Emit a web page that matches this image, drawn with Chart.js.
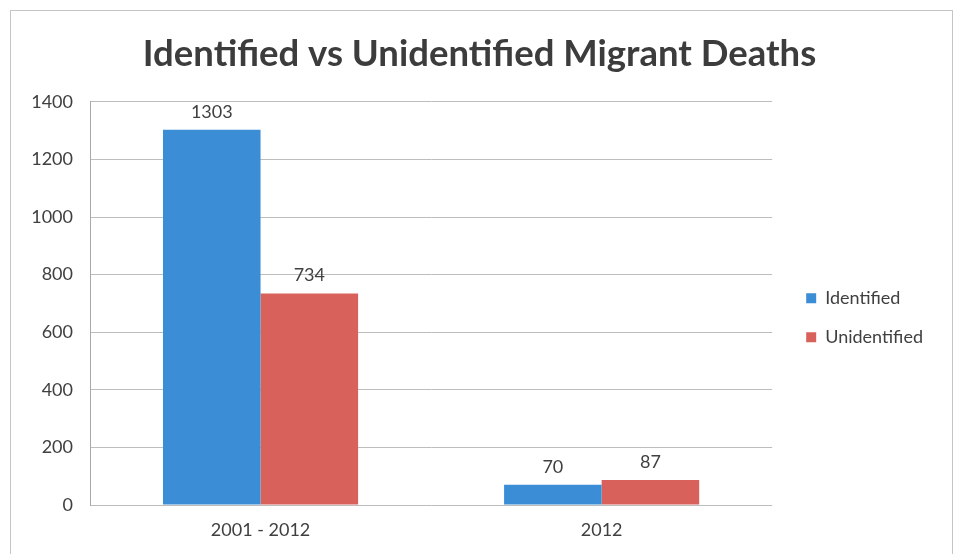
<!DOCTYPE html>
<html>
<head>
<meta charset="utf-8">
<script src="https://cdn.jsdelivr.net/npm/chart.js@4"></script>
<style>
  html, body { margin: 0; padding: 0; background: #ffffff; }
  #wrap { position: relative; width: 956px; height: 554px; }
</style>
</head>
<body>
<div id="wrap"><canvas id="c" width="956" height="554"></canvas></div>
<script>
const categories = ["2001 - 2012", "2012"];
const identified = [1303, 70];
const unidentified = [734, 87];
const yTicks = [0, 200, 400, 600, 800, 1000, 1200, 1400];
const titleText = "Identified vs Unidentified Migrant Deaths";

const FONT = "Lato, 'Open Sans', sans-serif";

const framePlugin = {
  id: 'frame',
  beforeDraw(chart) {
    const ctx = chart.ctx;
    ctx.save();
    ctx.fillStyle = '#ffffff';
    ctx.fillRect(0, 0, chart.width, chart.height);
    ctx.strokeStyle = '#c4c4c4';
    ctx.lineWidth = 1;
    ctx.strokeRect(10.5, 10.5, 942, 560);
    ctx.restore();
  }
};

const labelPlugin = {
  id: 'barLabels',
  afterDatasetsDraw(chart) {
    const ctx = chart.ctx;
    ctx.save();
    ctx.font = "18px " + FONT;
    ctx.fillStyle = '#404040';
    ctx.textAlign = 'center';
    ctx.textBaseline = 'bottom';
    chart.data.datasets.forEach((ds, i) => {
      const meta = chart.getDatasetMeta(i);
      meta.data.forEach((el, j) => {
        ctx.fillText(String(ds.data[j]), el.x, el.y - 9);
      });
    });
    ctx.restore();
  }
};

new Chart(document.getElementById('c'), {
  type: 'bar',
  data: {
    labels: categories,
    datasets: [
      { label: 'Identified', data: identified, backgroundColor: '#3b8dd5', borderWidth: 0 },
      { label: 'Unidentified', data: unidentified, backgroundColor: '#d8625b', borderWidth: 0 }
    ]
  },
  options: {
    responsive: false,
    animation: false,
    devicePixelRatio: 1,
    layout: { padding: { left: 26, right: 23, top: 10, bottom: 13 } },
    datasets: { bar: { categoryPercentage: 0.572, barPercentage: 1.0 } },
    plugins: {
      title: {
        display: true,
        text: titleText,
        color: '#3c3c3c',
        font: { family: FONT, size: 36.5, weight: 'bold', lineHeight: 1.2 },
        padding: { top: 22, bottom: 26 }
      },
      legend: {
        position: 'right',
        align: 'center',
        title: { display: true, text: ' ', font: { size: 12 }, padding: { top: 35, bottom: 35 } },
        labels: {
          boxWidth: 10,
          boxHeight: 10,
          padding: 21,
          color: '#404040',
          font: { family: FONT, size: 18 }
        }
      },
      tooltip: { enabled: false }
    },
    scales: {
      x: {
        grid: { display: false, drawTicks: false },
        border: { display: false },
        afterFit(scale) { scale.height = 36; },
        ticks: { color: '#404040', padding: 14, font: { family: FONT, size: 18 } }
      },
      y: {
        min: 0,
        max: 1400,
        afterBuildTicks(scale) { scale.ticks = yTicks.map(v => ({ value: v })); },
        afterFit(scale) { scale.width = 64; },
        grid: { color: '#bdbdbd', drawTicks: false, lineWidth: 1 },
        border: { display: true, color: '#a8a8a8' },
        ticks: { color: '#404040', padding: 17, font: { family: FONT, size: 18 }, callback: (v) => String(v) }
      },
      y2: {
        position: 'right',
        display: true,
        weight: 0,
        afterFit(scale) { scale.width = 13; },
        grid: { display: false },
        border: { display: false },
        ticks: { display: false }
      }
    }
  },
  plugins: [framePlugin, labelPlugin]
});
</script>
</body>
</html>
